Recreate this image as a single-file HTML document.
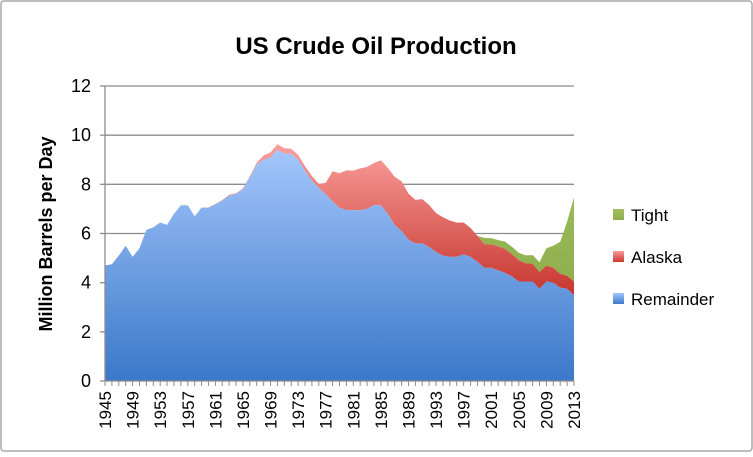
<!DOCTYPE html>
<html><head><meta charset="utf-8"><style>
body{margin:0;background:#fff;}
svg text{font-family:"Liberation Sans",Calibri,sans-serif;}
</style></head><body>
<svg width="753" height="452" xmlns="http://www.w3.org/2000/svg">
<defs>
<linearGradient id="gb" x1="0" y1="0" x2="0" y2="1"><stop offset="0" stop-color="#a3c6fc"/><stop offset="1" stop-color="#3b78c9"/></linearGradient>
<linearGradient id="gr" x1="0" y1="0" x2="0" y2="1"><stop offset="0" stop-color="#fa9f9c"/><stop offset="1" stop-color="#c7362f"/></linearGradient>
<linearGradient id="gg" x1="0" y1="0" x2="0" y2="1"><stop offset="0" stop-color="#9fc05c"/><stop offset="1" stop-color="#8fb04d"/></linearGradient>
</defs>
<rect x="1" y="1" width="751" height="450" rx="3" fill="#fff" stroke="#a8a8a8" stroke-width="1.5"/>
<text x="376" y="54" text-anchor="middle" font-size="24" font-weight="bold" fill="#000">US Crude Oil Production</text>
<text transform="translate(52,234) rotate(-90)" text-anchor="middle" font-size="18" font-weight="bold">Million Barrels per Day</text>
<g id="grid"></g>
<g id="areas"></g>
<g id="axes"></g>
<g>
<rect x="613" y="209" width="11" height="11" fill="url(#gg)"/>
<text x="631" y="221" font-size="17">Tight</text>
<rect x="613" y="251" width="11" height="11" fill="url(#gr)"/>
<text x="631" y="263" font-size="17">Alaska</text>
<rect x="613" y="293" width="11" height="11" fill="url(#gb)"/>
<text x="631" y="305" font-size="17">Remainder</text>
</g>
</svg>
<script>
const years=[];for(let y=1945;y<=2013;y++)years.push(y);
const remainder=[4.7,4.75,5.1,5.5,5.05,5.4,6.15,6.25,6.45,6.35,6.8,7.15,7.15,6.7,7.05,7.05,7.18,7.33,7.54,7.6,7.8,8.29,8.8,9.0,9.1,9.4,9.25,9.25,9.0,8.55,8.15,7.85,7.6,7.3,7.05,6.95,6.95,6.95,7.0,7.15,7.15,6.8,6.35,6.1,5.75,5.6,5.6,5.45,5.25,5.1,5.05,5.05,5.15,5.05,4.85,4.6,4.6,4.5,4.4,4.25,4.05,4.05,4.05,3.75,4.05,4.0,3.8,3.75,3.5];
const alaska=[0,0,0,0,0,0,0,0,0,0,0,0,0,0,0.01,0.01,0.02,0.03,0.03,0.03,0.03,0.04,0.08,0.18,0.2,0.23,0.22,0.2,0.2,0.19,0.19,0.17,0.46,1.23,1.4,1.62,1.61,1.7,1.71,1.72,1.83,1.87,1.96,2.02,1.87,1.77,1.8,1.71,1.58,1.56,1.48,1.39,1.3,1.18,1.05,0.97,0.96,0.98,0.97,0.91,0.86,0.74,0.72,0.68,0.65,0.6,0.56,0.53,0.54];
const tight=[0,0,0,0,0,0,0,0,0,0,0,0,0,0,0,0,0,0,0,0,0,0,0,0,0,0,0,0,0,0,0,0,0,0,0,0,0,0,0,0,0,0,0,0,0,0,0,0,0,0,0,0,0,0,0,0.25,0.25,0.25,0.3,0.3,0.3,0.32,0.35,0.4,0.7,0.9,1.3,2.2,3.43];
const yTicks=[0,2,4,6,8,10,12];
const X0=105,X1=574,Y0=381,Y1=86;
const xs=i=>X0+(X1-X0)*i/(years.length-1);
const ys=v=>Y0-(Y0-Y1)*v/12;
const NS="http://www.w3.org/2000/svg";
function mk(t,a,p){const e=document.createElementNS(NS,t);for(const k in a)e.setAttribute(k,a[k]);p.appendChild(e);return e;}
const grid=document.getElementById('grid'),areas=document.getElementById('areas'),axes=document.getElementById('axes');
yTicks.forEach(v=>{
 if(v>0){const l=mk('line',{x1:X0,x2:X1,y1:ys(v),y2:ys(v),stroke:'#8c8c8c','stroke-width':1.3},grid);
 
 }
 const tk=mk('line',{x1:X0-5,x2:X0,y1:ys(v),y2:ys(v),stroke:'#8c8c8c','stroke-width':1.3},axes);
 
 
 const t=mk('text',{x:X0-14,y:ys(v)+6,'text-anchor':'end','font-size':18},axes);
 
 
 t.textContent=v;
});
const b0=remainder.map(()=>0);
const b1=remainder.slice();
const b2=remainder.map((v,i)=>v+alaska[i]);
const b3=b2.map((v,i)=>v+tight[i]);
function area(lo,hi,fill,name){
 let d='M'+xs(0)+','+ys(hi[0]);
 for(let i=1;i<hi.length;i++)d+='L'+xs(i)+','+ys(hi[i]);
 for(let i=lo.length-1;i>=0;i--)d+='L'+xs(i)+','+ys(lo[i]);
 const p=mk('path',{d:d+'Z',fill:fill},areas);
 
 
}
area(b2,b3,'url(#gg)','area-tight');
area(b1,b2,'url(#gr)','area-alaska');
area(b0,b1,'url(#gb)','area-remainder');
const ya=mk('line',{x1:X0,x2:X0,y1:Y1,y2:Y0,stroke:'#8c8c8c','stroke-width':1.3},axes);


const xa=mk('line',{x1:X0,x2:X1,y1:Y0,y2:Y0,stroke:'#8c8c8c','stroke-width':1.3},axes);


years.forEach((y,i)=>{
 const tk=mk('line',{x1:xs(i),x2:xs(i),y1:Y0,y2:Y0+5,stroke:'#8c8c8c','stroke-width':1},axes);
 
 
 if(i%4===0){
  const t=mk('text',{transform:'translate('+(xs(i)+6)+','+(Y0+10)+') rotate(-90)','text-anchor':'end','font-size':17},axes);
  
  
  t.textContent=y;
 }
});
</script>
</body></html>
